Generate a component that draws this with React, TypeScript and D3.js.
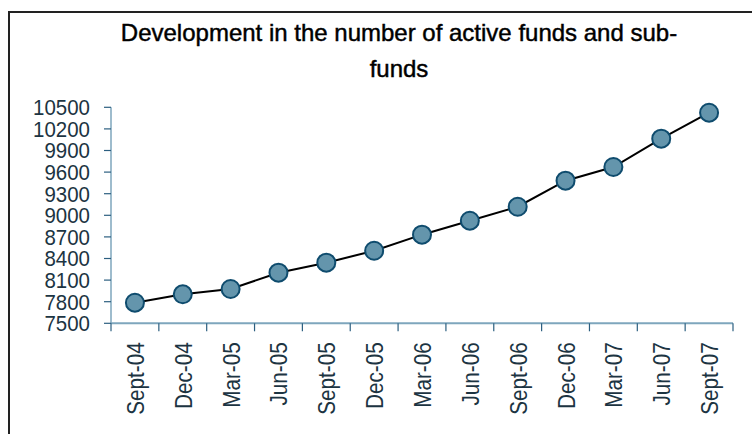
import React, { useEffect, useRef } from "react";
import * as d3 from "d3";

const title = ["Development in the number of active funds and sub-", "funds"];
const categories = [
  "Sept-04", "Dec-04", "Mar-05", "Jun-05", "Sept-05", "Dec-05", "Mar-06",
  "Jun-06", "Sept-06", "Dec-06", "Mar-07", "Jun-07", "Sept-07",
];
const values = [7786, 7903, 7976, 8203, 8342, 8508, 8731, 8925, 9119, 9481, 9671, 10064, 10425];
const yTicks = [7500, 7800, 8100, 8400, 8700, 9000, 9300, 9600, 9900, 10200, 10500];

const W = 752;
const H = 434;
const plot = { left: 111, right: 733, top: 107.3, bottom: 323.3 };

export default function App() {
  const ref = useRef<SVGSVGElement | null>(null);

  useEffect(() => {
    const svg = d3.select(ref.current);
    svg.selectAll("*").remove();

    const x = d3.scaleBand<string>().domain(categories).range([plot.left, plot.right]).padding(0);
    const y = d3.scaleLinear().domain([7500, 10500]).range([plot.bottom, plot.top]);

    // frame
    svg.append("rect")
      .attr("x", 9).attr("y", 12).attr("width", 900).attr("height", 600)
      .attr("fill", "none").attr("stroke", "#222").attr("stroke-width", 2);

    // title
    const t = svg.append("g").attr("font-family", "'Liberation Sans', Arial, sans-serif")
      .attr("font-size", 24).attr("fill", "#000").attr("stroke", "#000").attr("stroke-width", 0.45)
      .attr("text-anchor", "middle");
    title.forEach((line, i) => {
      t.append("text").attr("x", 399).attr("y", 41 + i * 36).text(line);
    });

    const tickColor = "#2c5f80";
    const axisColor = "#7ea6bd";
    const labelColor = "#1c3442";

    // y axis
    const ya = svg.append("g");
    ya.append("line").attr("x1", plot.left).attr("x2", plot.left)
      .attr("y1", y(10500)).attr("y2", y(7500)).attr("stroke", axisColor).attr("stroke-width", 1.5);
    yTicks.forEach((v) => {
      ya.append("line").attr("x1", plot.left - 7).attr("x2", plot.left)
        .attr("y1", y(v)).attr("y2", y(v)).attr("stroke", tickColor).attr("stroke-width", 1.2);
      ya.append("text")
        .attr("transform", `translate(90,${y(v)}) scale(0.93,1)`)
        .attr("text-anchor", "end").attr("dy", "0.36em")
        .attr("font-family", "'Liberation Sans', Arial, sans-serif").attr("font-size", 22)
        .attr("fill", labelColor).text(String(v));
    });

    // x axis
    const xa = svg.append("g");
    xa.append("line").attr("x1", plot.left).attr("x2", plot.right)
      .attr("y1", plot.bottom).attr("y2", plot.bottom).attr("stroke", axisColor).attr("stroke-width", 2);
    const bounds = categories.map((c) => x(c)!).concat([plot.right]);
    bounds.forEach((bx) => {
      xa.append("line").attr("x1", bx).attr("x2", bx)
        .attr("y1", plot.bottom).attr("y2", plot.bottom + 8).attr("stroke", tickColor).attr("stroke-width", 1.2);
    });
    categories.forEach((c) => {
      const cx = x(c)! + x.bandwidth() / 2;
      xa.append("text")
        .attr("transform", `translate(${cx + 9},${plot.bottom + 19}) rotate(-90) scale(0.9,1)`)
        .attr("text-anchor", "end")
        .attr("font-family", "'Liberation Sans', Arial, sans-serif").attr("font-size", 23)
        .attr("fill", labelColor).text(c);
    });

    // line
    const line = d3.line<number>()
      .x((_, i) => x(categories[i])! + x.bandwidth() / 2)
      .y((d) => y(d));
    svg.append("path").attr("d", line(values)!).attr("fill", "none")
      .attr("stroke", "#000").attr("stroke-width", 2);

    svg.append("g").selectAll("circle").data(values).join("circle")
      .attr("cx", (_, i) => x(categories[i])! + x.bandwidth() / 2)
      .attr("cy", (d) => y(d))
      .attr("r", 9)
      .attr("fill", "#6495ac").attr("stroke", "#0f4c6e").attr("stroke-width", 2);
  }, []);

  return (
    <svg ref={ref} width={W} height={H}
      style={{ position: "absolute", left: 0, top: 0, background: "#fff" }} />
  );
}
